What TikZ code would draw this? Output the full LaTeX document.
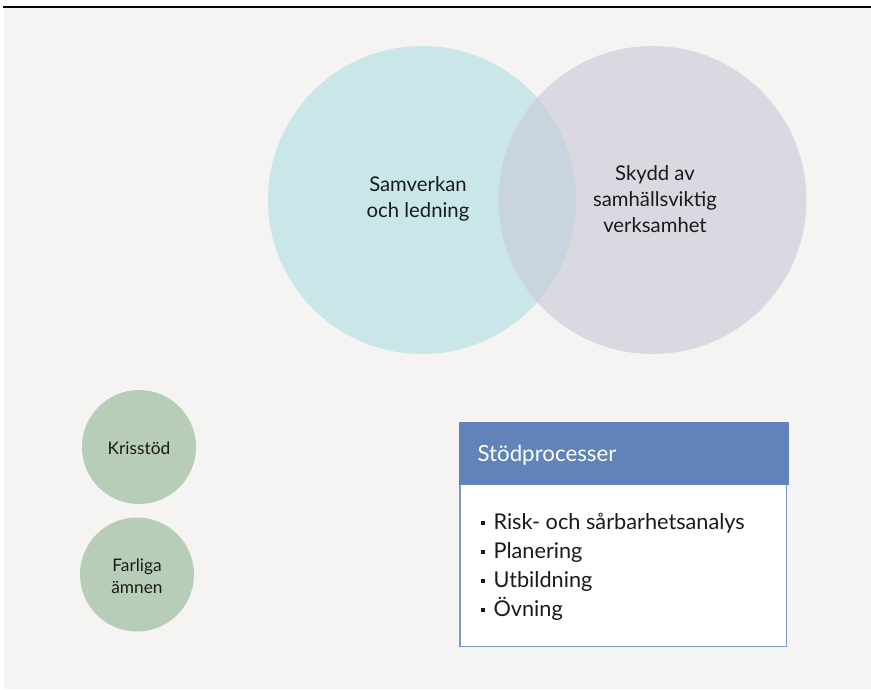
\documentclass[tikz,border=0pt]{standalone}
\usepackage{fontspec}
\setmainfont{Lato}
\newcommand{\itemdot}{\makebox[16pt][l]{\hspace{3pt}\raisebox{5pt}{\rule{4.2pt}{4.2pt}}}}
\begin{document}
\definecolor{pagebg}{HTML}{F5F4F2}
\definecolor{venna}{HTML}{C9E7E9}
\definecolor{vennb}{HTML}{DAD8E1}
\definecolor{vennab}{HTML}{C9D5DE}
\definecolor{smallc}{HTML}{B8CDB7}
\definecolor{headblue}{HTML}{6183B9}
\definecolor{boxline}{HTML}{7B97C8}
\definecolor{ink}{HTML}{1A1A1A}
\begin{tikzpicture}[x=1pt,y=-1pt,
  bigtext/.style={text=ink,align=center,font=\fontsize{20.3}{26}\selectfont},
  smalltext/.style={text=ink,align=center,font=\fontsize{17.3}{22}\selectfont},
  listtext/.style={text=ink,align=left,anchor=north west,font=\fontsize{21.7}{29}\selectfont}]
  \useasboundingbox (0,0) rectangle (871,689);
  \fill[white] (0,0) rectangle (871,689);
  \fill[pagebg] (4,8) rectangle (871,689);
  \draw[line width=1.6pt,black] (3,7) -- (871,7);

  % Venn pair
  \fill[venna] (422,200) circle (154);
  \fill[vennb] (652.5,200) circle (154);
  \begin{scope}
    \clip (422,200) circle (154);
    \fill[vennab] (652.5,200) circle (154);
  \end{scope}
  \node[bigtext] (samverkan) at (418,199) {Samverkan\\och ledning};
  \node[bigtext] (skydd) at (655,199) {Skydd av\\samhällsviktig\\verksamhet};

  % Small circles
  \fill[smallc] (139,447) circle (57);
  \fill[smallc] (137,574.5) circle (57);
  \node[smalltext] (kris) at (139,448) {Krisstöd};
  \node[smalltext] (farliga) at (137,576) {Farliga\\ämnen};

  % Support processes box
  \draw[boxline,line width=1.2pt,fill=white] (460,480) rectangle (786.5,646.5);
  \fill[headblue] (459,422) rectangle (788.5,485);
  \node[text=white,anchor=west,font=\fontsize{22.3}{24}\selectfont] (head) at (474,455) {Stödprocesser};
  \node[listtext] (list) at (474,510) {\itemdot Risk- och sårbarhetsanalys\\\itemdot Planering\\\itemdot Utbildning\\\itemdot Övning};
\end{tikzpicture}
\end{document}
